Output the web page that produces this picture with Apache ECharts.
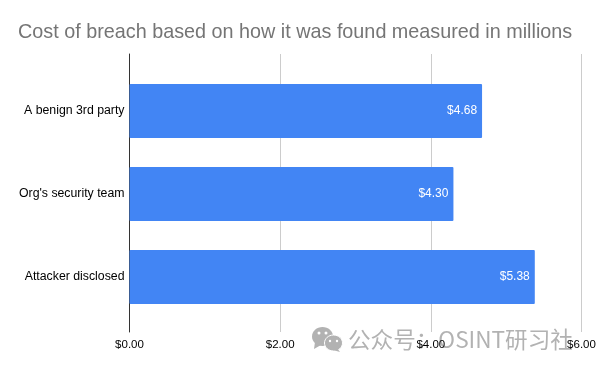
<!DOCTYPE html>
<html><head><meta charset="utf-8">
<style>html,body{margin:0;padding:0;background:#fff}#c{width:600px;height:371px}</style>
<script src="https://cdn.jsdelivr.net/npm/echarts@6/dist/echarts.min.js"></script>
</head><body><div id="c"></div>
<script>
const titleText = "Cost of breach based on how it was found measured in millions";
const categories = ["A benign 3rd party", "Org's security team", "Attacker disclosed"];
const costs = [4.68, 4.30, 5.38];
const fam = '"Liberation Sans", Arial, sans-serif';
const wm = '#b2b2b2';
const chart = echarts.init(document.getElementById('c'), null, {renderer:'canvas'});
chart.setOption({
  animation:false,
  backgroundColor:'#fff',
  title:{text:titleText,left:18,top:23,padding:0,textStyle:{fontFamily:fam,fontSize:19.8,fontWeight:'normal',color:'#757575'}},
  grid:[
    {left:129.5,width:452,top:54,height:278},
    {left:129.5,width:452,top:69.5,height:249}
  ],
  xAxis:[
    {gridIndex:0,type:'value',min:0,max:6,interval:2,
     axisLine:{show:false},axisTick:{show:false},
     splitLine:{show:true,lineStyle:{color:'#cccccc',width:1}},
     axisLabel:{margin:7,fontFamily:fam,fontSize:11.5,color:'#000',formatter:v=>'$'+v.toFixed(2),hideOverlap:false}},
    {gridIndex:1,type:'value',min:0,max:6,interval:2,show:false}
  ],
  yAxis:[
    {gridIndex:0,type:'category',data:categories,inverse:true,
     axisLine:{show:true,lineStyle:{color:'#333',width:1}},axisTick:{show:false},axisLabel:{show:false}},
    {gridIndex:1,type:'category',data:categories,inverse:true,
     axisLine:{show:false},axisTick:{show:false},
     axisLabel:{margin:5,fontFamily:fam,fontSize:12.3,color:'#000'}}
  ],
  series:[{
    type:'bar',xAxisIndex:1,yAxisIndex:1,data:costs,barWidth:54,
    itemStyle:{color:'#4285f4',borderRadius:1},
    label:{show:true,position:'insideRight',distance:5,fontFamily:fam,fontSize:12,color:'#fff',formatter:p=>'$'+p.value.toFixed(2)}
  }],
  graphic:[
    {type:'ellipse',shape:{cx:322.5,cy:336.5,rx:10.5,ry:9.5},style:{fill:wm},silent:true},
    {type:'polygon',shape:{points:[[315,342],[314,349],[321,345]]},style:{fill:wm},silent:true},
    {type:'ellipse',shape:{cx:333.5,cy:343,rx:9,ry:8},style:{fill:wm,stroke:'#fff',lineWidth:1},silent:true},
    {type:'polygon',shape:{points:[[337,348],[340,352],[333,350]]},style:{fill:wm},silent:true},
    {type:'circle',shape:{cx:319,cy:333,r:1.5},style:{fill:'#fff'},silent:true},
    {type:'circle',shape:{cx:326,cy:333,r:1.5},style:{fill:'#fff'},silent:true},
    {type:'circle',shape:{cx:330,cy:341,r:1.2},style:{fill:'#fff'},silent:true},
    {type:'circle',shape:{cx:337,cy:341,r:1.2},style:{fill:'#fff'},silent:true},
    {type:'text',x:348,y:328.5,silent:true,style:{text:'公众号：OSINT研习社',fontFamily:'"Noto Sans CJK SC",'+fam,fontSize:22.6,fill:wm}}
  ]
});
</script></body></html>
